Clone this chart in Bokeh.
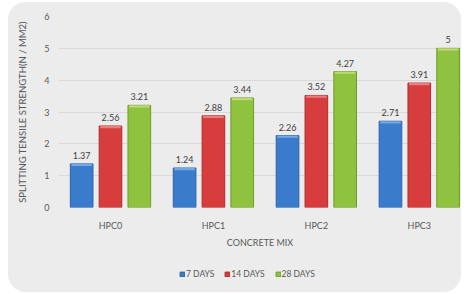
from bokeh.plotting import figure
from bokeh.layouts import column, row
from bokeh.models import (ColumnDataSource, LabelSet, Legend, LegendItem,
                          Range1d, Spacer, FixedTicker)
from bokeh.core.properties import value
from bokeh.transform import dodge
from bokeh.embed import file_html
from bokeh.resources import INLINE

mixes = ["HPC0", "HPC1", "HPC2", "HPC3"]
series_names = ["7 DAYS", "14 DAYS", "28 DAYS"]
days7 = [1.37, 1.24, 2.26, 2.71]
days14 = [2.56, 2.88, 3.52, 3.91]
days28 = [3.21, 3.44, 4.27, 5]
y_ticks = [0, 1, 2, 3, 4, 5, 6]
x_title = "CONCRETE MIX"
y_title = "SPLITTING TENSILE STRENGTH(N / MM2)"

colors = ["#3b7bcc", "#d63d3c", "#8fc23e"]
edges = ["#2d62a8", "#ae2f2e", "#6f9a2a"]
caps = ["#7fb0ea", "#ee8a88", "#c3e27e"]
BG = "#ececec"
FONT = "Lato"
W = 453
CAP = 0.07  # thickness (data units) of the highlight strip on top of each bar

idx = list(range(len(mixes)))
series = [days7, days14, days28]
data = dict(mix=mixes, idx=idx)
for i, s in enumerate(series):
    data[f"v{i}"] = s
    data[f"c{i}"] = [v - CAP for v in s]
    data[f"l{i}"] = [f"{v:g}" for v in s]
src = ColumnDataSource(data)

# the chart is cropped on the right in the reference: the last group runs to the edge
p = figure(width=W, height=248, x_range=Range1d(-0.505, 3.41),
           y_range=(0, 6), output_backend="svg", toolbar_location=None,
           min_border_left=50, min_border_right=0, min_border_top=14,
           min_border_bottom=40)
p.border_fill_color = BG
p.background_fill_color = BG
p.outline_line_color = None

offs = [-0.28, 0.0, 0.28]
for i, (o, c, e, cp) in enumerate(zip(offs, colors, edges, caps)):
    xd = dodge("idx", o)
    p.vbar(x=xd, top=f"v{i}", width=0.22, source=src,
           fill_color=c, line_color=e, line_width=1)
    p.vbar(x=xd, top=f"v{i}", bottom=f"c{i}", width=0.2, source=src,
           fill_color=cp, line_color=None, fill_alpha=0.85)
    ls = LabelSet(x=xd, y=f"v{i}", text=f"l{i}", source=src,
                  text_align="center", text_baseline="bottom", y_offset=5,
                  text_font_size=value("9px"), text_color=value("#404040"),
                  text_font=value(FONT))
    p.add_layout(ls)

p.ygrid.grid_line_color = "#d9d9d9"
p.xgrid.grid_line_color = None
p.yaxis.ticker = y_ticks
p.xaxis.ticker = FixedTicker(ticks=idx)
p.xaxis.major_label_overrides = {i: m for i, m in zip(idx, mixes)}
for ax in (p.xaxis, p.yaxis):
    ax.axis_line_color = None
    ax.major_tick_line_color = None
    ax.minor_tick_line_color = None
    ax.major_label_text_color = "#595959"
    ax.major_label_text_font = FONT
    ax.major_label_text_font_size = "9px"
    ax.axis_label_text_font = FONT
    ax.axis_label_text_font_style = "normal"
    ax.axis_label_text_color = "#595959"
p.yaxis.axis_label_text_font_size = "9.5px"
p.xaxis.axis_label_text_font_size = "9px"
p.yaxis.major_label_standoff = 3
p.xaxis.major_label_standoff = 6
p.xaxis.axis_label = x_title
p.yaxis.axis_label = y_title
p.xaxis.axis_label_standoff = 3
p.yaxis.axis_label_standoff = 13

# legend strip (its glyph renderers draw the real series, outside the visible y range)
p2 = figure(width=W, height=42, x_range=Range1d(-0.5, 3.5),
            y_range=Range1d(100, 101),
            output_backend="svg", toolbar_location=None,
            x_axis_type=None, y_axis_type=None,
            min_border_left=0, min_border_right=0, min_border_top=0, min_border_bottom=0)
p2.border_fill_color = BG
p2.background_fill_color = BG
p2.outline_line_color = None
p2.grid.grid_line_color = None
dummies = [p2.vbar(x="idx", top=f"v{i}", width=0.2, source=src,
                   fill_color=c, line_color=e)
           for i, (c, e) in enumerate(zip(colors, edges))]
legend = Legend(items=[LegendItem(label=n, renderers=[r]) for n, r in zip(series_names, dummies)],
                orientation="horizontal", location=(121, 13),
                background_fill_alpha=0, border_line_color=None,
                label_text_font=FONT, label_text_font_size="8.5px",
                label_text_color="#595959", glyph_width=6, glyph_height=6,
                spacing=10, label_standoff=1, padding=0, margin=0,
                label_height=8)
p2.add_layout(legend, "center")

card = column(p, p2, spacing=0,
              styles={"border-radius": "18px", "overflow": "hidden",
                      "background-color": BG})
lay = column(Spacer(height=2), row(Spacer(width=8), card, spacing=0), spacing=0)

open("out.html", "w").write(file_html(lay, INLINE))
